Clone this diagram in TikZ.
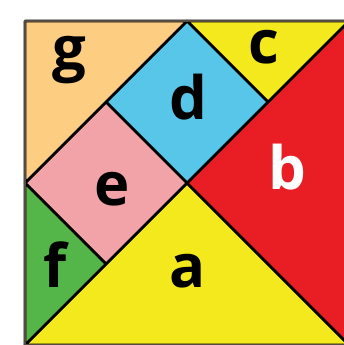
\documentclass[tikz,border=0pt]{standalone}
\usepackage{fontspec}
\usepackage{xcolor}
\usepackage{tikz}
\newfontfamily\lblfont{Open Sans}
\definecolor{peach}{RGB}{253,205,130}
\definecolor{sky}{RGB}{88,198,232}
\definecolor{tanyellow}{RGB}{243,233,28}
\definecolor{tanred}{RGB}{232,30,36}
\definecolor{pink}{RGB}{241,163,168}
\definecolor{tangreen}{RGB}{84,182,72}

\begin{document}
\begin{tikzpicture}[piece/.style={draw=black,line width=0.9pt,line join=round,fill=#1}, piece/.default=white, lbl/.style={anchor=base,inner sep=0pt,font=\lblfont\bfseries\fontsize{21}{21}\selectfont}]
\useasboundingbox[fill=white] (-0.309,0) rectangle (3.926,4.259);
\filldraw[piece=tanyellow] (0,0) -- (2,2) -- (4,0) -- cycle;
\filldraw[piece=tanred] (2,2) -- (4,4) -- (4,0) -- cycle;
\filldraw[piece=tanyellow] (2,4) -- (4,4) -- (3,3) -- cycle;
\filldraw[piece=sky] (2,4) -- (3,3) -- (2,2) -- (1,3) -- cycle;
\filldraw[piece=pink] (1,3) -- (2,2) -- (1,1) -- (0,2) -- cycle;
\filldraw[piece=tangreen] (0,2) -- (1,1) -- (0,0) -- cycle;
\filldraw[piece=peach] (0,4) -- (2,4) -- (1,3) -- (0,2) -- cycle;
\draw[draw={rgb,255:red,85;green,75;blue,65},line width=1pt] (0,0) rectangle (4,4);
\node[lbl] (a) at (2.006,0.704) {a};
\node[lbl,text=white] (b) at (3.235,1.914) {b};
\node[lbl] (c) at (2.951,3.481) {c};
\node[lbl] (d) at (2.012,2.778) {d};
\node[lbl] (e) at (1.08,1.728) {e};
\node[lbl] (f) at (0.37,0.704) {f};
\node[lbl] (g) at (0.543,3.395) {g};
\end{tikzpicture}
\end{document}
